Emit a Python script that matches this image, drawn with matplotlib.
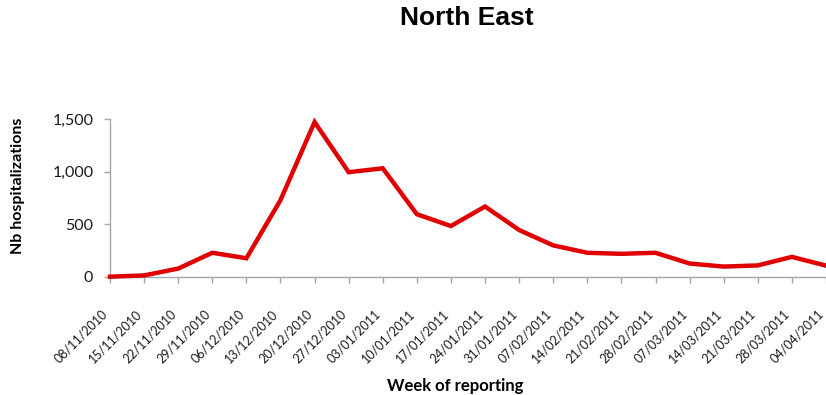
import matplotlib
matplotlib.use("Agg")
import matplotlib.pyplot as plt
from matplotlib.ticker import FuncFormatter

weeks = ['08/11/2010', '15/11/2010', '22/11/2010', '29/11/2010', '06/12/2010',
         '13/12/2010', '20/12/2010', '27/12/2010', '03/01/2011', '10/01/2011',
         '17/01/2011', '24/01/2011', '31/01/2011', '07/02/2011', '14/02/2011',
         '21/02/2011', '28/02/2011', '07/03/2011', '14/03/2011', '21/03/2011',
         '28/03/2011', '04/04/2011']
hospitalizations = [3, 15, 80, 230, 178, 730, 1471, 995, 1032, 596,
                    484, 669, 446, 300, 230, 220, 230, 128, 99, 110,
                    191, 108]

fig = plt.figure(figsize=(8.26, 3.95), dpi=100)
ax = fig.add_axes([110 / 826, 1 - 277 / 395, 1 - 110 / 826, 158 / 395])

x = list(range(len(weeks)))
ax.plot(x, hospitalizations, color='#e00000', lw=3.2, solid_joinstyle='miter',
        clip_on=False, zorder=3)

ax.set_xlim(0, len(weeks) - 1)
ax.set_ylim(0, 1500)
ax.set_yticks([0, 500, 1000, 1500])
ax.yaxis.set_major_formatter(FuncFormatter(lambda v, p: f'{int(v):,}'))

ax.set_xticks(x)
ax.set_xticklabels(weeks, rotation=45, ha='right', va='top')

for side in ['top', 'right']:
    ax.spines[side].set_visible(False)
for side in ['left', 'bottom']:
    ax.spines[side].set_color('#a6a6a6')
    ax.spines[side].set_linewidth(1.0)

ax.tick_params(axis='both', colors='#a6a6a6', length=4, width=1.0)
ax.tick_params(axis='y', labelsize=11.5, labelcolor='#1a1a1a', pad=8)
ax.tick_params(axis='x', labelsize=9, labelcolor='#1a1a1a', pad=18)
for lab in ax.get_xticklabels() + ax.get_yticklabels():
    lab.set_fontfamily('Lato')

fig.text(0.565, 0.955, 'North East', ha='center', va='center',
         fontsize=19, fontweight='bold', family='Liberation Sans')
fig.text(0.551, 0.023, 'Week of reporting', ha='center', va='center',
         fontsize=12, fontweight='bold', family='Lato')
fig.text(0.022, 0.529, 'Nb hospitalizations', ha='center', va='center',
         rotation=90, fontsize=11.5, fontweight='bold', family='Lato')

fig.savefig('out.png', dpi=100)
